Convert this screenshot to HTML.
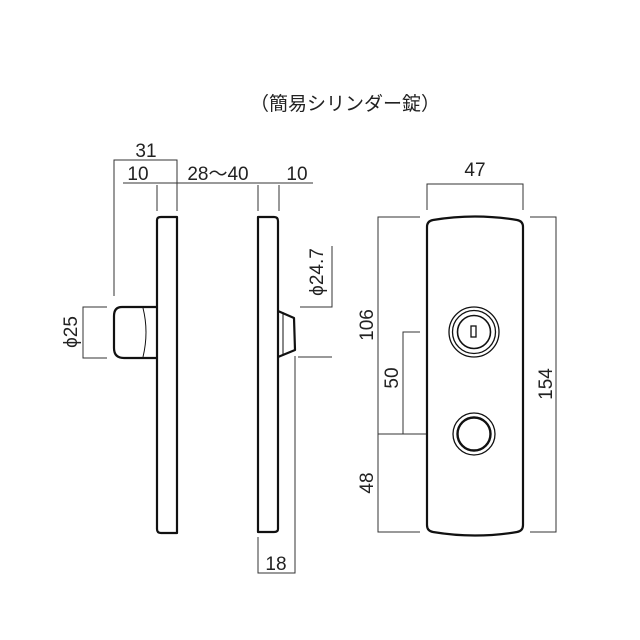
<!DOCTYPE html>
<html><head><meta charset="utf-8"><style>
html,body{margin:0;padding:0;background:#fff;}
svg{display:block;}
text{font-family:"Liberation Sans","Noto Sans CJK JP",sans-serif;fill:#222;}
</style></head><body>
<svg width="640" height="640" viewBox="0 0 640 640" xmlns="http://www.w3.org/2000/svg">
<rect width="640" height="640" fill="#fff"/>
<text x="345" y="110" font-size="19" text-anchor="middle">（簡易シリンダー錠）</text>

<g stroke="#333" stroke-width="1" fill="none">
<!-- left top dims -->
<polyline points="114,296 114,160 177,160 177,211"/>
<line x1="123" y1="183" x2="313" y2="183"/>
<line x1="157" y1="185" x2="157" y2="211"/>
<line x1="258" y1="185" x2="258" y2="211"/>
<line x1="279" y1="185" x2="279" y2="211"/>
<!-- phi25 -->
<polyline points="107,307 83,307 83,358 107,358"/>
<!-- phi24.7 -->
<polyline points="300,307 332,307 332,246"/>
<line x1="298" y1="357" x2="332" y2="357"/>
<!-- 18 -->
<polyline points="258,537 258,573 295,573 295,356"/>
<!-- right view dims -->
<polyline points="427,210 427,184 523,184 523,210"/>
<polyline points="530,217 556,217 556,532 530,532"/>
<polyline points="420,217 378,217 378,532 420,532"/>
<polyline points="420,332 403,332 403,434"/>
<line x1="378" y1="434" x2="427" y2="434"/>
</g>

<g stroke="#111" stroke-width="2.2" fill="none" stroke-linejoin="round">
<!-- left plate -->
<path d="M157,220 Q157,217 161,217 L177,217 L177,533 L161,533 Q157,533 157,529 Z"/>
<!-- left knob -->
<path d="M157,307 L122,307 Q114,307 114,316 L114,348 Q114,358 124,358 L157,358"/>
<path d="M143,308 Q149,332 143,357" stroke-width="1"/>
<!-- right plate -->
<path d="M258,217 L274,217 Q278,217 278,221 L278,529 Q278,532 274,532 L258,532 Z"/>
<!-- right thumbturn -->
<path d="M278,311 L294,318 L295,350 L278,357"/>
<line x1="283" y1="312" x2="283" y2="356" stroke-width="1"/>
<!-- front plate -->
<path d="M433,220 Q475,213 517,220 Q523,221 523,227 L523,525 Q523,531 517,532 Q475,539 433,532 Q427,531 427,525 L427,227 Q427,221 433,220 Z"/>
</g>

<g stroke="#111" fill="none">
<circle cx="474" cy="332" r="25" stroke-width="1.3"/>
<circle cx="474" cy="332" r="21.5" stroke-width="1.3"/>
<circle cx="474" cy="332" r="16.5" stroke-width="1.6"/>
<rect x="471" y="326" width="5" height="11" stroke-width="1.3"/>
<circle cx="474" cy="434" r="21" stroke-width="1.3"/>
<circle cx="474" cy="434" r="16.5" stroke-width="2.4"/>
</g>

<g font-size="19">
<text x="146" y="157" text-anchor="middle">31</text>
<text x="138" y="180" text-anchor="middle">10</text>
<text x="218" y="180" text-anchor="middle">28〜40</text>
<text x="297" y="180" text-anchor="middle">10</text>
<text x="276" y="570" text-anchor="middle">18</text>
<text x="475" y="176" text-anchor="middle">47</text>
<text transform="translate(77,332) rotate(-90)" text-anchor="middle">ϕ25</text>
<text transform="translate(323,272) rotate(-90)" text-anchor="middle">ϕ24.7</text>
<text transform="translate(373,325) rotate(-90)" text-anchor="middle">106</text>
<text transform="translate(398,378) rotate(-90)" text-anchor="middle">50</text>
<text transform="translate(373,483) rotate(-90)" text-anchor="middle">48</text>
<text transform="translate(552,384) rotate(-90)" text-anchor="middle">154</text>
</g>
</svg>
</body></html>
